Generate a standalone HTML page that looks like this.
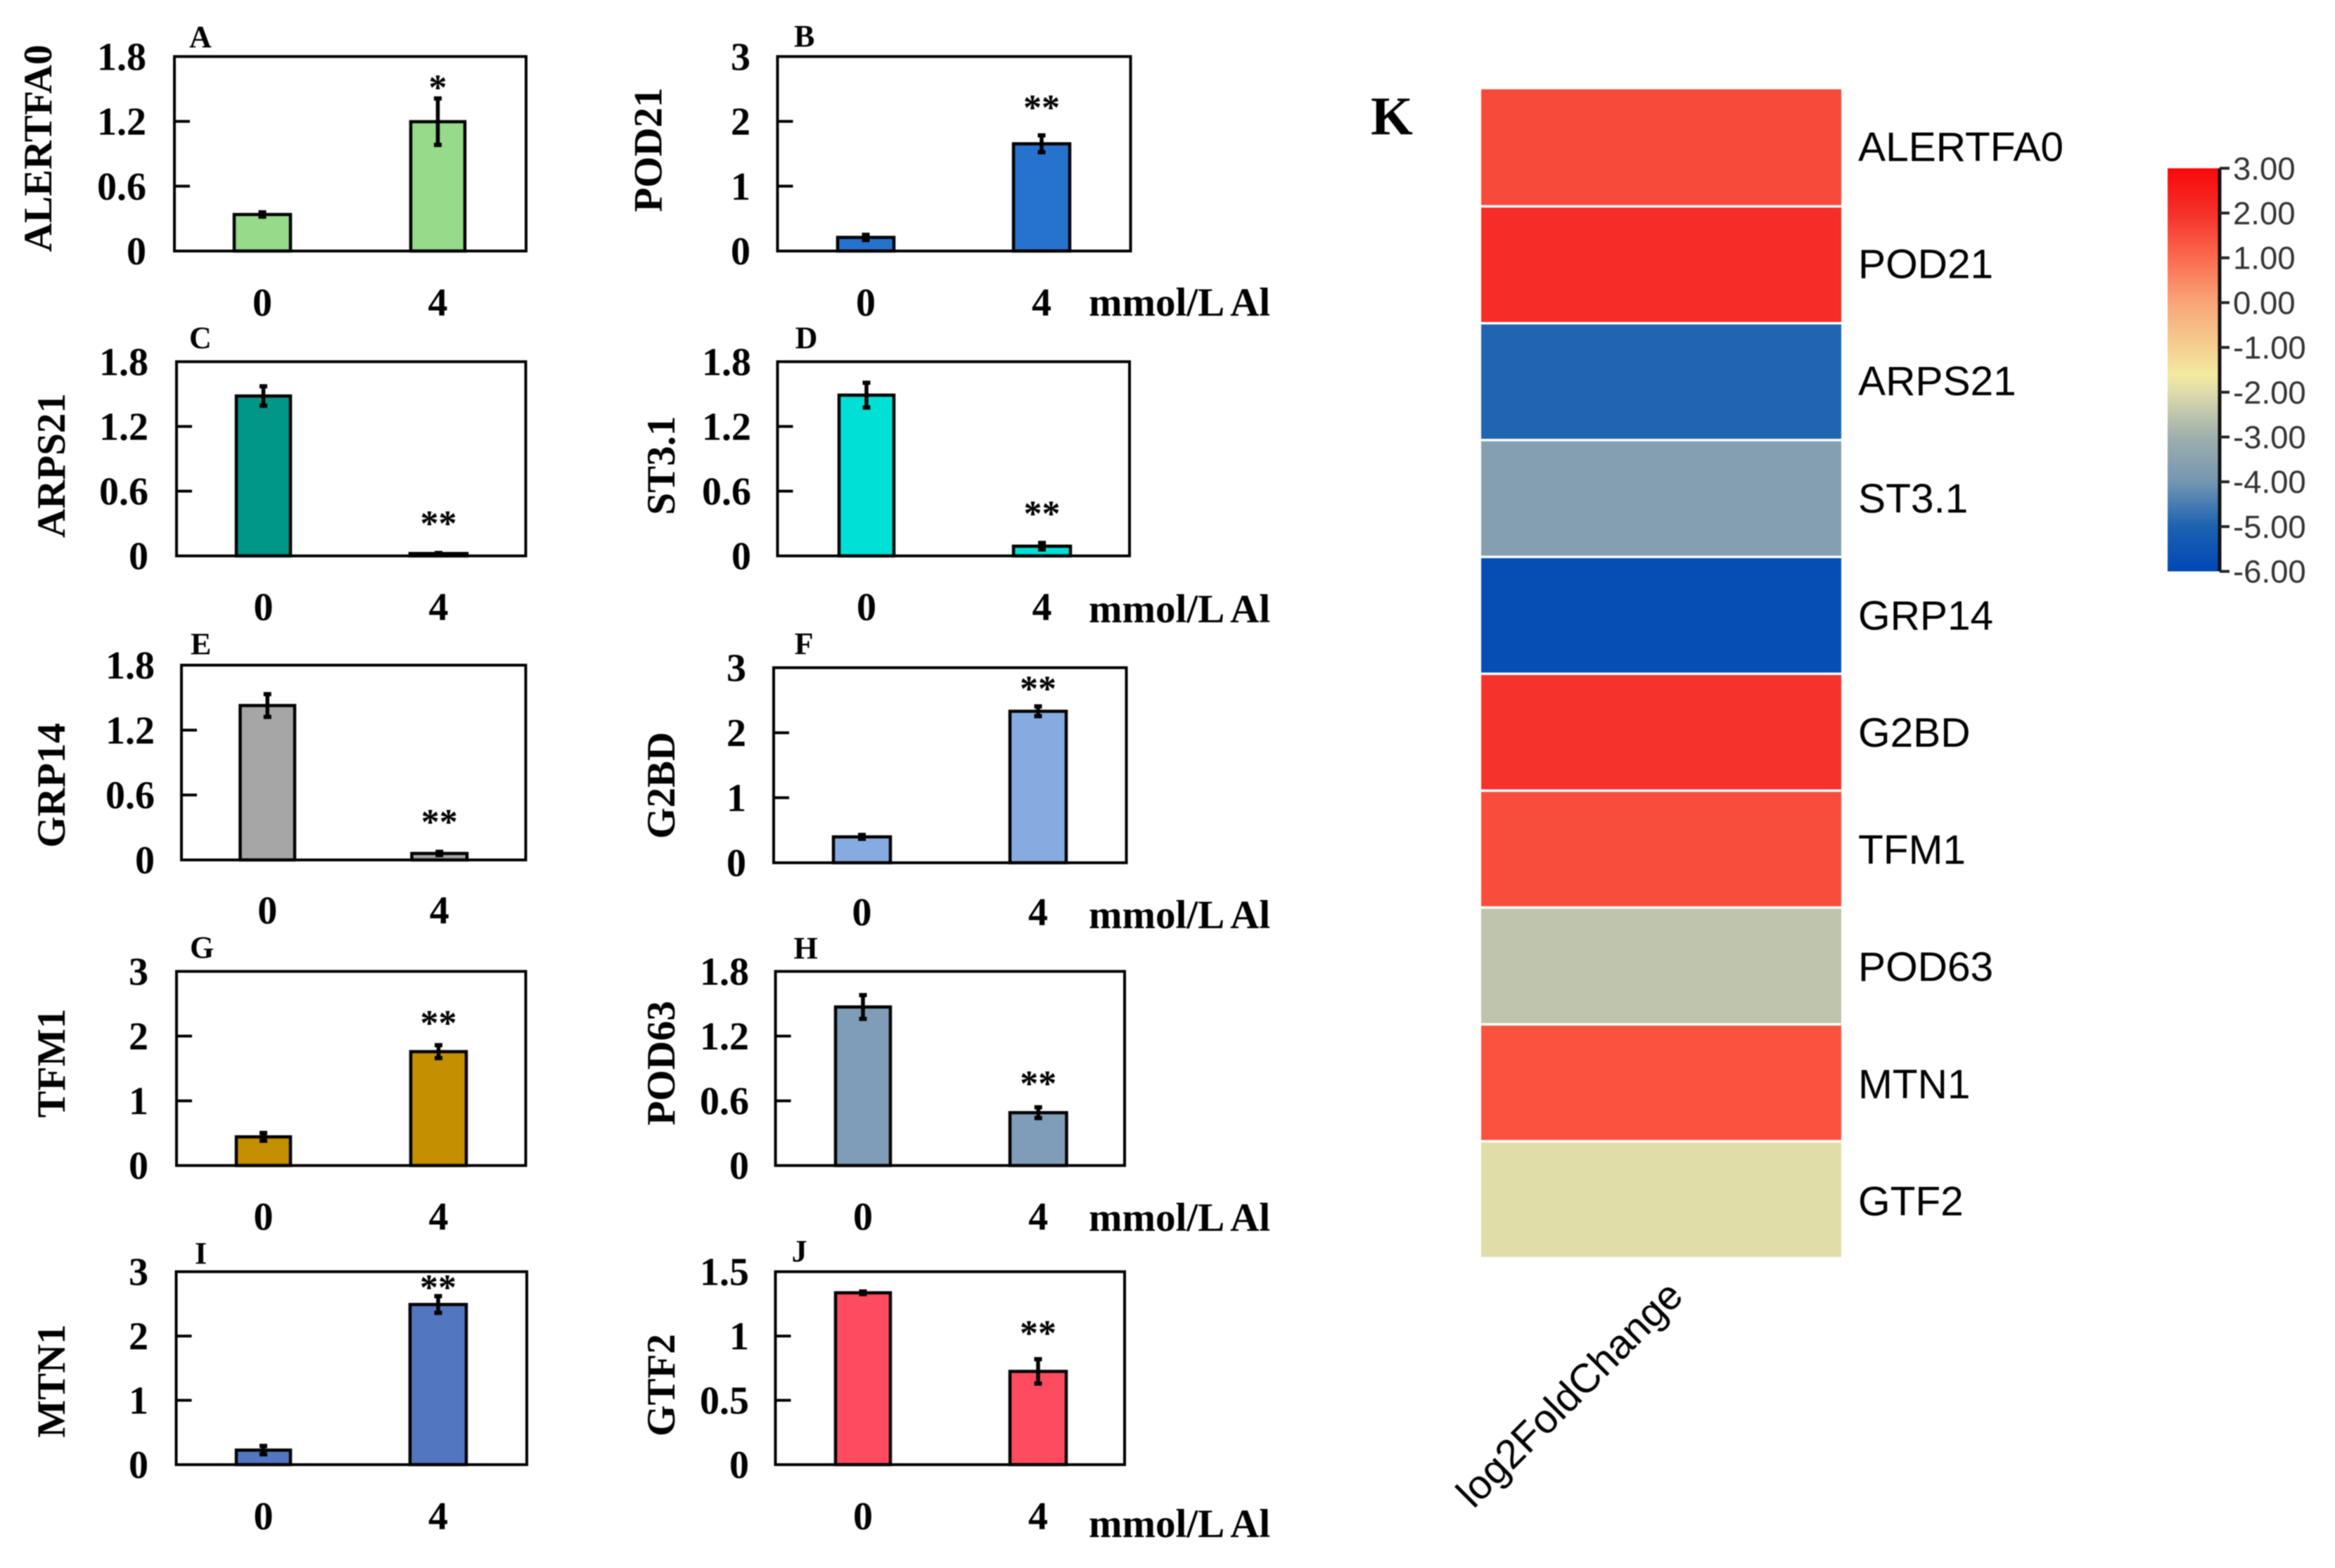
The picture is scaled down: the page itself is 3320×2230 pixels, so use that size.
<!DOCTYPE html>
<html lang="en">
<head>
<meta charset="utf-8">
<title>Gene expression under Al treatment</title>
<style>
html,body{margin:0;padding:0;background:#fff;}
#figure{display:block;width:3320px;height:2230px;filter:blur(0.8px);}
.serif{font-family:"Liberation Serif",serif;font-weight:bold;fill:#000;}
.sans{font-family:"Liberation Sans",sans-serif;fill:#000;}
</style>
</head>
<body>
<svg id="figure" xmlns="http://www.w3.org/2000/svg" width="3320" height="2230" viewBox="0 0 3320 2230">
<rect x="0" y="0" width="3320" height="2230" fill="#fff"/>
<defs><linearGradient id="cbGrad" x1="0" y1="0" x2="0" y2="1"></linearGradient></defs>
<g id="panels"></g>
<g id="heat"></g>
</svg>
<script>
// ---- bar chart data ----
const panelLetters = ['A','B','C','D','E','F','G','H','I','J'];
const panelGenes = ['ALERTFA0','POD21','ARPS21','ST3.1','GRP14','G2BD','TFM1','POD63','MTN1','GTF2'];
const categories = ['0','4'];
const controlValues = [0.338,0.21,1.482,1.49,1.427,0.398,0.443,1.47,0.226,1.336];
const treatedValues = [1.197,1.654,0.022,0.09,0.06,2.33,1.76,0.49,2.49,0.725];
const controlErrors = [0.02,0.04,0.09,0.115,0.105,0.03,0.06,0.11,0.065,0.01];
const treatedErrors = [0.215,0.13,0.005,0.03,0.015,0.075,0.10,0.05,0.13,0.095];
const axisMaxima = [1.8,3,1.8,1.8,1.8,3,3,1.8,3,1.5];
const tickLabels = [
  ['0','0.6','1.2','1.8'],['0','1','2','3'],['0','0.6','1.2','1.8'],['0','0.6','1.2','1.8'],
  ['0','0.6','1.2','1.8'],['0','1','2','3'],['0','1','2','3'],['0','0.6','1.2','1.8'],
  ['0','1','2','3'],['0','0.5','1','1.5']
];
const significance = ['*','**','**','**','**','**','**','**','**','**'];
const significanceLevels = [1.56,2.29,0.345,0.438,0.395,2.75,2.28,0.805,2.83,1.06];
const unitLabel = 'mmol/L Al';

// ---- heatmap data ----
const heatGenes = ['ALERTFA0','POD21','ARPS21','ST3.1','GRP14','G2BD','TFM1','POD63','MTN1','GTF2'];
const heatValues = [1.55,2.1,-4.95,-3.6,-5.75,1.95,1.5,-2.5,1.4,-1.95];
const heatColumnLabel = 'log2FoldChange';
const colorbarTicks = ['3.00','2.00','1.00','0.00','-1.00','-2.00','-3.00','-4.00','-5.00','-6.00'];
const colorbarTickValues = [3,2,1,0,-1,-2,-3,-4,-5,-6];
const colorStopValues = [3,2,1,0,-1,-1.6,-2,-3,-4,-5,-6];
const colorStopColors = ['#F80808','#F5302A','#FB6A4E','#F8A578','#F5CF90','#F2EA9F','#DEDBAA','#9EAFAE','#7395B2','#1C62B0','#0047B5'];

// ---- layout and palette (not data) ----
const panelFrames = [
  {l:248,r:748,t:80.4,b:357,a0:333,a1:413,c0:584,c1:661,tx:208,gx:73,gy:211,lx:269,ly:67,xy:449},
  {l:1105.5,r:1607.5,t:80.4,b:357,a0:1191,a1:1271,c0:1441,c1:1521,tx:1067,gx:940.5,gy:213,lx:1129,ly:66,xy:449,uy:449},
  {l:251,r:747.5,t:514.4,b:790.6,a0:336,a1:413,c0:583,c1:664,tx:211,gx:92,gy:662,lx:269,ly:495,xy:882},
  {l:1105.5,r:1606,t:514.4,b:790.6,a0:1193,a1:1271,c0:1441,c1:1522,tx:1068,gx:959,gy:662,lx:1130.6,ly:495,xy:882,uy:885},
  {l:258,r:747.5,t:946,b:1223,a0:341.5,a1:419,c0:585.5,c1:664,tx:220,gx:92,gy:1117,lx:271,ly:930.6,xy:1313.5},
  {l:1100,r:1601.5,t:949.6,b:1227,a0:1185,a1:1266,c0:1436,c1:1516,tx:1061,gx:959,gy:1117,lx:1129.6,ly:930,xy:1316,uy:1320},
  {l:251,r:747.5,t:1381.5,b:1657.6,a0:336,a1:413,c0:584,c1:663,tx:211,gx:92,gy:1512,lx:270,ly:1362,xy:1749},
  {l:1102.6,r:1599,t:1381.5,b:1657.6,a0:1188,a1:1266,c0:1436,c1:1516.5,tx:1065,gx:959,gy:1512,lx:1128.5,ly:1363,xy:1749,uy:1750.6},
  {l:250.5,r:749,t:1808.6,b:2083,a0:336,a1:413,c0:583,c1:663,tx:211,gx:92,gy:1964,lx:277,ly:1797,xy:2175},
  {l:1102.5,r:1599,t:1808.6,b:2083,a0:1188,a1:1266,c0:1436,c1:1516,tx:1065,gx:959,gy:1970,lx:1125.6,ly:1794,xy:2175,uy:2186}
];
const barFills = ['#96DA8A','#2673CD','#009688','#00E0D6','#A6A6A6','#86ABE1','#C48F00','#7F9DB9','#5276BF','#FF4B60'];

const NS = 'http://www.w3.org/2000/svg';
function make(tag, attrs, parent, text) {
  const node = document.createElementNS(NS, tag);
  for (const k in attrs) node.setAttribute(k, attrs[k]);
  if (text !== undefined) node.textContent = text;
  parent.appendChild(node);
  return node;
}
function slug(s) { return String(s).toLowerCase().replace(/[^a-z0-9]+/g, '-'); }

const panelsRoot = document.getElementById('panels');
panelFrames.forEach(function (f, i) {
  const key = slug(panelGenes[i]);
  const yScale = function (v) { return f.b - (v / axisMaxima[i]) * (f.b - f.t); };
  const g = make('g', {}, panelsRoot);
  
  

  // frame
  const frame = make('rect', {x:f.l, y:f.t, width:f.r - f.l, height:f.b - f.t, fill:'#fff', stroke:'#000', 'stroke-width':4}, g);
  
  

  // y ticks and labels
  const labels = tickLabels[i];
  labels.forEach(function (lab, j) {
    const v = axisMaxima[i] * j / (labels.length - 1);
    const y = yScale(v);
    if (j > 0 && j < labels.length - 1) {
      const tick = make('line', {x1:f.l, x2:f.l + 22, y1:y, y2:y, stroke:'#000', 'stroke-width':4}, g);
      
      
    }
    const t = make('text', {x:f.tx, y:y + 19, 'text-anchor':'end', 'font-size':56, class:'serif'}, g, lab);
    
    
  });

  // bars
  const spans = [[f.a0, f.a1], [f.c0, f.c1]];
  const vals = [controlValues[i], treatedValues[i]];
  const errs = [controlErrors[i], treatedErrors[i]];
  categories.forEach(function (cat, j) {
    const x0 = spans[j][0], x1 = spans[j][1], cx = (x0 + x1) / 2;
    const y = yScale(vals[j]);
    const bar = make('rect', {x:x0, y:y, width:x1 - x0, height:f.b - y, fill:barFills[i], stroke:'#000', 'stroke-width':4.5}, g);
    
    

    const yHi = yScale(vals[j] + errs[j]), yLo = yScale(Math.max(0, vals[j] - errs[j]));
    const err = make('line', {x1:cx, x2:cx, y1:yHi, y2:yLo, stroke:'#000', 'stroke-width':5.5}, g);
    
    
    [yHi, yLo].forEach(function (cy) {
      const cap = make('line', {x1:cx - 5.5, x2:cx + 5.5, y1:cy, y2:cy, stroke:'#000', 'stroke-width':6}, g);
      
      
    });

    const xl = make('text', {x:cx, y:f.xy, 'text-anchor':'middle', 'font-size':56, class:'serif'}, g, cat);
    
    
  });

  // significance marker
  const star = make('text', {x:(f.c0 + f.c1) / 2, y:yScale(significanceLevels[i]) + 24, 'text-anchor':'middle', 'font-size':52, class:'serif'}, g, significance[i]);
  
  

  // y axis title
  const title = make('text', {transform:'translate(' + f.gx + ',' + f.gy + ') rotate(-90)', 'text-anchor':'middle', 'font-size':57, class:'serif'}, g, panelGenes[i]);
  
  

  // panel letter
  const letter = make('text', {x:f.lx, y:f.ly, 'font-size':44, class:'serif'}, g, panelLetters[i]);
  
  

  // unit label
  if (f.uy) {
    const unit = make('text', {x:1548, y:f.uy, 'font-size':57, class:'serif'}, g, unitLabel);
    
    
  }
});

// ---- heatmap ----
function hexToRgb(h) { return [1, 3, 5].map(function (p) { return parseInt(h.substr(p, 2), 16); }); }
function colorFor(v) {
  for (let s = 0; s < colorStopValues.length - 1; s++) {
    const hi = colorStopValues[s], lo = colorStopValues[s + 1];
    if (v <= hi && v >= lo) {
      const k = (hi - v) / (hi - lo);
      const a = hexToRgb(colorStopColors[s]), b = hexToRgb(colorStopColors[s + 1]);
      return 'rgb(' + a.map(function (c, n) { return Math.round(c + (b[n] - c) * k); }).join(',') + ')';
    }
  }
  return v > colorStopValues[0] ? colorStopColors[0] : colorStopColors[colorStopColors.length - 1];
}
const heatRoot = document.getElementById('heat');
const heatLeft = 2106, heatRight = 2618, heatTop = 127, heatBottom = 1789;
const rowScale = function (i) { return heatTop + i * (heatBottom - heatTop) / heatGenes.length; };
heatGenes.forEach(function (gene, i) {
  const key = slug(gene);
  const y0 = rowScale(i), y1 = rowScale(i + 1);
  const cell = make('rect', {x:heatLeft, y:y0 + (i ? 2 : 0), width:heatRight - heatLeft, height:y1 - y0 - (i ? 3.5 : 1.5), fill:colorFor(heatValues[i])}, heatRoot);
  
  
  const label = make('text', {x:2642, y:229 + i * 166.6, 'font-size':58.6, class:'sans'}, heatRoot, gene);
  
  
});
const kLetter = make('text', {x:1949, y:191, 'font-size':77, class:'serif'}, heatRoot, 'K');


const colLabel = make('text', {transform:'translate(2095,2147) rotate(-45)', 'font-size':58, class:'sans'}, heatRoot, heatColumnLabel);



// ---- colorbar ----
const cbTop = 239.3, cbBottom = 812.6, cbLeft = 3082, cbRight = 3154;
const grad = document.getElementById('cbGrad');
colorStopValues.forEach(function (v, i) {
  const off = (colorStopValues[0] - v) / (colorStopValues[0] - colorStopValues[colorStopValues.length - 1]);
  make('stop', {offset:off, 'stop-color':colorStopColors[i]}, grad);
});
const cbScale = function (v) { return cbTop + (3 - v) / 9 * (cbBottom - cbTop); };
const cb = make('rect', {x:cbLeft, y:cbTop, width:cbRight - cbLeft, height:cbBottom - cbTop, fill:'url(#cbGrad)'}, heatRoot);


const cbAxis = make('line', {x1:cbRight + 2, x2:cbRight + 2, y1:cbTop, y2:cbBottom, stroke:'#111', 'stroke-width':5}, heatRoot);


colorbarTicks.forEach(function (lab, i) {
  const y = cbScale(colorbarTickValues[i]);
  const tick = make('line', {x1:cbRight + 2, x2:3170, y1:y, y2:y, stroke:'#222', 'stroke-width':4}, heatRoot);
  
  
  const t = make('text', {x:3175, y:y + 16, 'font-size':45.5, class:'sans', style:'fill:#333'}, heatRoot, lab);
  
  
});
</script>
</body>
</html>
